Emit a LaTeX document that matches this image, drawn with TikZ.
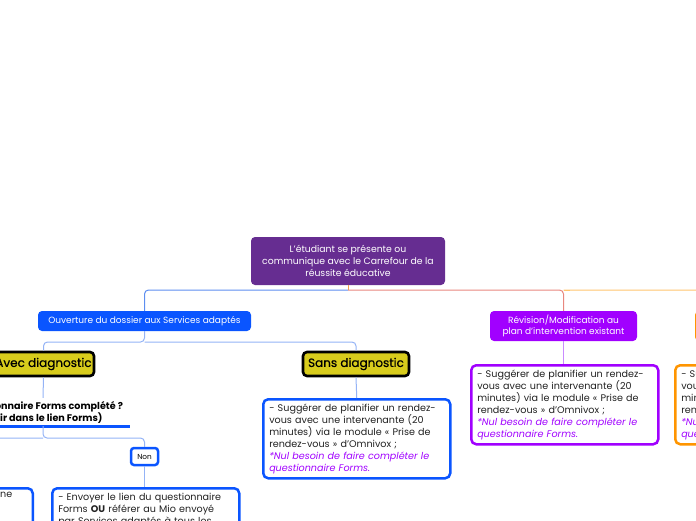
\documentclass[tikz,border=0pt]{standalone}
\usepackage{fontspec}
\setmainfont{Poppins}
\newfontfamily\popmed[FakeBold=0.6]{Poppins}
\usetikzlibrary{calc}
\definecolor{rootc}{HTML}{662D91}
\definecolor{bluec}{HTML}{0A55FF}
\definecolor{purc}{HTML}{A100FF}
\definecolor{orc}{HTML}{FF9500}
\definecolor{yelc}{HTML}{D8CC1C}
\definecolor{txtc}{HTML}{222222}
\definecolor{lnorange}{HTML}{F5A04A}
\definecolor{lnblue}{HTML}{5D8EF0}
\definecolor{lnblue2}{HTML}{94B3F6}
\definecolor{lnsalmon}{HTML}{E8877F}
\definecolor{lnlorange}{HTML}{FFC46E}
\definecolor{lnpurple}{HTML}{C98BFF}
\tikzset{
  filledbox/.style={rounded corners=4pt, text=white, align=center, inner sep=0pt, font=\fontsize{9.3}{12}\selectfont},
  diagbox/.style={draw=black, line width=2.6pt, fill=yelc, rounded corners=4pt, inner sep=0pt, font=\popmed\fontsize{12}{14}\selectfont},
  textbox/.style={draw, line width=2.5pt, rounded corners=5pt, fill=white, text=txtc, align=left, text width=175pt, inner xsep=6pt, inner ysep=4.5pt, anchor=north west, font=\fontsize{9.6}{12}\selectfont},
  conn/.style={line width=1pt, rounded corners=4pt},
}
\newcommand{\nulnote}{\textcolor{purc}{\itshape *Nul besoin de faire compléter le}\\\textcolor{purc}{\itshape questionnaire Forms.}}
\newcommand{\suggtext}{- Suggérer de planifier un rendez-\\vous avec une intervenante (20\\minutes) via le module « Prise de\\rendez-vous » d'Omnivox~;\\\nulnote}
\begin{document}
\begin{tikzpicture}[x=1pt,y=-1pt]
\useasboundingbox (0,0) rectangle (696,520);
\clip (0,0) rectangle (696,520);

% top-level nodes
\node[filledbox, fill=rootc, minimum width=194pt, minimum height=48pt] (root) at (348,261)
  {L'étudiant se présente ou\\communique avec le Carrefour de la\\réussite éducative};
\node[filledbox, fill=bluec, minimum width=213pt, minimum height=20pt, font=\fontsize{9}{11}\selectfont] (ouv) at (144.5,321)
  {Ouverture du dossier aux Services adaptés};
\node[filledbox, fill=purc, minimum width=147pt, minimum height=30pt, font=\fontsize{9}{11.5}\selectfont] (rev) at (563.5,326)
  {Révision/Modification au\\plan d'intervention existant};
\node[filledbox, fill=orc, minimum width=155pt, minimum height=30pt] (orn) at (772.5,326) {};

% second level
\node[diagbox, minimum width=101pt, minimum height=24pt] (avec) at (43.5,364) {Avec diagnostic};
\node[diagbox, minimum width=106pt, minimum height=24pt] (sans) at (356,364) {Sans diagnostic};

\node[textbox, draw=bluec] (sansbox) at (262,398) {\suggtext};
\node[textbox, draw=purc] (revbox) at (470,364) {\suggtext};
\node[textbox, draw=orc] (orbox) at (674,364) {\suggtext};

% question
\node[inner sep=0pt, minimum width=174pt, minimum height=28pt, align=center, font=\bfseries\fontsize{9.6}{12}\selectfont] (q) at (43,412)
  {Questionnaire Forms complété ?\\(voir dans le lien Forms)};
\draw[bluec, line width=3pt] (q.south west) -- (q.south east);

\node[draw=bluec, line width=2.5pt, rounded corners=3pt, fill=white, minimum width=27pt, minimum height=17pt, inner sep=0pt, font=\fontsize{7.3}{8}\selectfont] (non) at (144.5,456.5) {Non};
\coordinate (oui) at (-59.5,447);

\node[textbox, draw=bluec] (envbox) at (51,487)
  {- Envoyer le lien du questionnaire\\Forms \textbf{OU} référer au Mio envoyé\\par Services adaptés à tous les};
\node[textbox, draw=bluec, anchor=north east, minimum height=80pt] (ouibox) at (34,487) {};
\node[anchor=north east, inner sep=0pt, text=txtc, font=\fontsize{9.6}{12}\selectfont] (ouitext) at (12.5,491.5) {une};

% connectors
\coordinate (j) at (348,290);
\draw[conn, lnorange] (root.south) -- (j);
\draw[conn, lnblue] (j) -| (ouv.north);
\draw[conn, lnsalmon] (j) -| (rev.north);
\draw[conn, lnlorange] (rev.north |- j) -| (orn.north);
\draw[conn, lnlorange] (rev.north |- j) -- ++(6,0);

\coordinate (j2) at (144.5,342);
\draw[conn, lnblue2] (ouv.south) -- (j2) -| (avec.north);
\draw[conn, lnblue2] (j2) -| (sans.north);
\draw[conn, lnblue2] (avec.south) -- (q.north);
\draw[conn, lnblue2] (sans.south) -- (sansbox.north);

\coordinate (j3) at (43,438);
\draw[conn, lnblue2] (q.south) -- (j3) -| (non.north);
\draw[conn, lnblue2] (j3) -| (oui);
\draw[conn, lnblue2] (non.south) -- (non.south |- envbox.north);

\draw[conn, lnpurple] (rev.south) -- (rev.south |- revbox.north);
\draw[conn, lnlorange] (orn.south) -- (orn.south |- orbox.north);
\end{tikzpicture}
\end{document}
